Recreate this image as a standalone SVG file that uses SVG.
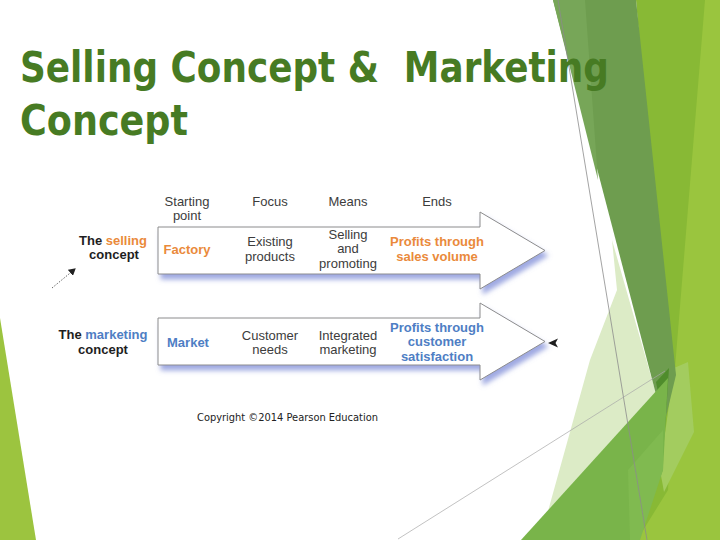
<svg xmlns="http://www.w3.org/2000/svg" width="720" height="540" viewBox="0 0 720 540">
<defs>
<style>
.t{font-family:"Liberation Sans",Arial,sans-serif;font-size:13px;fill:#3c3c3c;text-anchor:middle}
.b{font-weight:bold}
.k{fill:#1e1e1e}
.o{fill:#ea8a3b}
.u{fill:#4e7ec4}
.arrow{fill:#ffffff;stroke:#8c8c8c;stroke-width:1;filter:url(#sh)}
.title{font-family:"DejaVu Sans",sans-serif;font-weight:bold;font-size:42px;fill:#477b23;white-space:pre}
</style>
<filter id="sh" x="-10%" y="-30%" width="125%" height="170%">
<feGaussianBlur in="SourceAlpha" stdDeviation="2.5" result="b"/>
<feOffset in="b" dx="3" dy="5" result="o"/>
<feFlood flood-color="#7f8dd8" flood-opacity="0.75"/>
<feComposite in2="o" operator="in" result="s"/>
<feMerge><feMergeNode in="s"/><feMergeNode in="SourceGraphic"/></feMerge>
</filter>
<marker id="ah" markerWidth="8" markerHeight="8" refX="6" refY="4" orient="auto" markerUnits="userSpaceOnUse">
<path d="M0,0 L7,4 L0,8 Z" fill="#222"/>
</marker>
</defs>
<rect width="720" height="540" fill="#ffffff"/>
<g id="background">
<polygon points="636,0 720,0 720,540 630,540 668,380" fill="#88b935"/>
<polygon points="705,0 720,0 720,540 637,540 668,490 674,380" fill="#9ac53e"/>
<polygon points="674,368 688,362 694,432 664,492 660,470" fill="#a3cc5f"/>
<polygon points="612,240 665,425 620,540 540,540 590,360 617,290" fill="#dcebc6"/>
<polygon points="553,0 636,0 676,375 664,425" fill="#6e9d4f"/>
<polygon points="553,0 585,0 598,180" fill="#77a658"/>
<polygon points="656,382 669,368 665,428" fill="#4f8c2c"/>
<polygon points="521,540 668,378 663,470 637,540" fill="#79b44a"/>
<polygon points="628,470 663,430 663,470 640,540 630,540" fill="#80ba50"/>
<line x1="558" y1="0" x2="647" y2="540" stroke="#8c8c8c" stroke-width="0.8"/>
<line x1="398" y1="539" x2="665" y2="371" stroke="#a8a8a8" stroke-width="0.7"/>
<polygon points="0,318 36,540 0,540" fill="#9cc43f"/>
</g>
<g id="title">
<text class="title" xml:space="preserve" x="20" y="82" textLength="589" lengthAdjust="spacingAndGlyphs">Selling Concept &amp;  Marketing</text>
<text class="title" x="20" y="135" textLength="168" lengthAdjust="spacingAndGlyphs">Concept</text>
</g>
<g id="headers">
<text class="t"><tspan x="187" y="206">Starting</tspan><tspan x="187" y="220">point</tspan></text>
<text class="t" x="270" y="206">Focus</text>
<text class="t" x="348" y="206">Means</text>
<text class="t" x="437" y="206">Ends</text>
</g>
<g id="selling-concept">
<path class="arrow" d="M158,227 H480 V212 L545,250.5 L480,289 V274 H158 Z"/>
<text class="t b k"><tspan x="113" y="245">The <tspan class="o">selling</tspan></tspan><tspan x="114" y="259">concept</tspan></text>
<text class="t b o" x="187" y="254">Factory</text>
<text class="t"><tspan x="270" y="246">Existing</tspan><tspan x="270" y="261">products</tspan></text>
<text class="t"><tspan x="348" y="239">Selling</tspan><tspan x="348" y="253">and</tspan><tspan x="348" y="268">promoting</tspan></text>
<text class="t b o"><tspan x="437" y="246">Profits through</tspan><tspan x="437" y="261">sales volume</tspan></text>
</g>
<g id="marketing-concept">
<path class="arrow" d="M158,318 H480 V303 L545,341.5 L480,380 V365 H158 Z"/>
<text class="t b k"><tspan x="103" y="339">The <tspan class="u">marketing</tspan></tspan><tspan x="103" y="354">concept</tspan></text>
<text class="t b u" x="188" y="347">Market</text>
<text class="t"><tspan x="270" y="340">Customer</tspan><tspan x="270" y="354">needs</tspan></text>
<text class="t"><tspan x="348" y="340">Integrated</tspan><tspan x="348" y="354">marketing</tspan></text>
<text class="t b u"><tspan x="437" y="332">Profits through</tspan><tspan x="437" y="346">customer</tspan><tspan x="437" y="361">satisfaction</tspan></text>
</g>
<g id="connectors">
<line x1="52" y1="288" x2="75" y2="269" stroke="#555" stroke-width="0.9" stroke-dasharray="1.5,1.5" marker-end="url(#ah)"/>
<path d="M548,343 L558,338.5 L555.5,343 L558,347.5 Z" fill="#1e1e1e"/>
</g>
<g id="copyright">
<text x="197" y="421" font-family="'DejaVu Sans',Verdana,sans-serif" font-size="10.5" fill="#222" textLength="181" lengthAdjust="spacingAndGlyphs">Copyright ©2014 Pearson Education</text>
</g>
</svg>
